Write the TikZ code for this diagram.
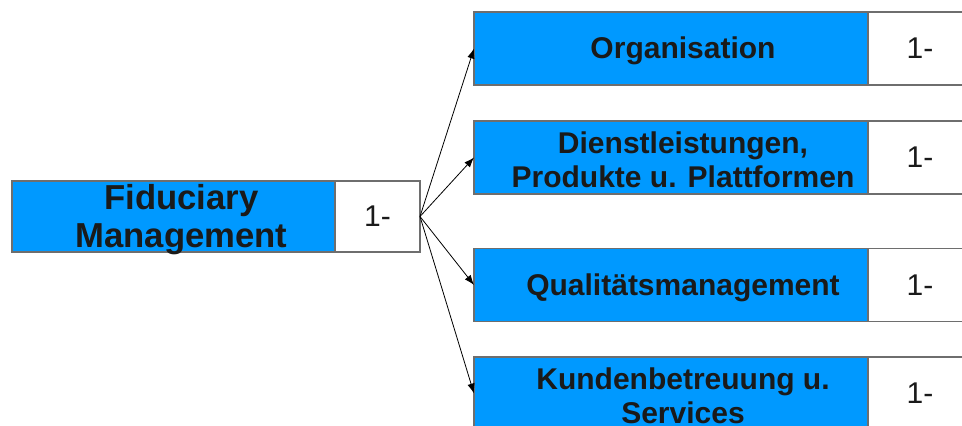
\documentclass[tikz,border=0pt]{standalone}
\usepackage{fontspec}
\setmainfont{Liberation Sans}
\usetikzlibrary{positioning,arrows.meta}
\definecolor{catblue}{RGB}{0,153,255}
\definecolor{boxgray}{RGB}{110,110,110}
\definecolor{inkblack}{RGB}{26,26,26}

\begin{document}
\begin{tikzpicture}[
    x=0.75pt, y=-0.75pt,
    every node/.style={inner sep=0pt, outer sep=0pt},
    headbox/.style={draw=boxgray, line width=0.9pt, fill=catblue, minimum width=242.25pt, minimum height=53.25pt},
    headtext/.style={font=\bfseries\fontsize{26}{28.5}\selectfont, align=center, text=inkblack, xshift=6pt, yshift=-2.5pt},
    catbox/.style={draw=boxgray, line width=0.9pt, fill=catblue, minimum width=295.5pt, minimum height=54.75pt},
    cattext/.style={font=\bfseries\fontsize{22.5}{25.5}\selectfont, align=center, text=inkblack, xshift=9pt, yshift=-2pt},
    countbox/.style={draw=boxgray, line width=0.9pt, fill=white, font=\fontsize{22.5}{27}\selectfont, text=inkblack},
    link/.style={draw=black, line width=0.6pt, -{Latex[length=7.5pt, width=5.5pt]}},
]
    \useasboundingbox (0,0) rectangle (962,425);
    \clip (0,0) rectangle (962,425);

    % left: the area itself
    \node[headbox, label={[headtext]center:{Fiduciary\\Management}}] (fm) at (173.5,216.5) {};
    \node[countbox, minimum width=63.75pt, minimum height=53.25pt, right=0pt of fm] (fmcount) {1-};

    % right: the four sub-areas
    \node[catbox, label={[cattext]center:Organisation}] (org) at (671,48.5) {};
    \node[countbox, minimum width=78pt, minimum height=54.75pt, right=0pt of org] (orgcount) {1-};

    \node[catbox, label={[cattext]center:{Dienstleistungen,\\Produkte u. Plattformen}}] (dienst) at (671,157.5) {};
    \node[countbox, minimum width=78pt, minimum height=54.75pt, right=0pt of dienst] (dienstcount) {1-};

    \node[catbox, label={[cattext]center:Qualitätsmanagement}] (quali) at (671,285) {};
    \node[countbox, minimum width=78pt, minimum height=54.75pt, right=0pt of quali] (qualicount) {1-};

    \node[catbox, label={[cattext]center:{Kundenbetreuung u.\\Services}}] (kunden) at (671,393.5) {};
    \node[countbox, minimum width=78pt, minimum height=54.75pt, right=0pt of kunden] (kundencount) {1-};

    \foreach \sub in {org, dienst, quali, kunden}
        \draw[link] (fmcount.east) -- (\sub.west);
\end{tikzpicture}
\end{document}
